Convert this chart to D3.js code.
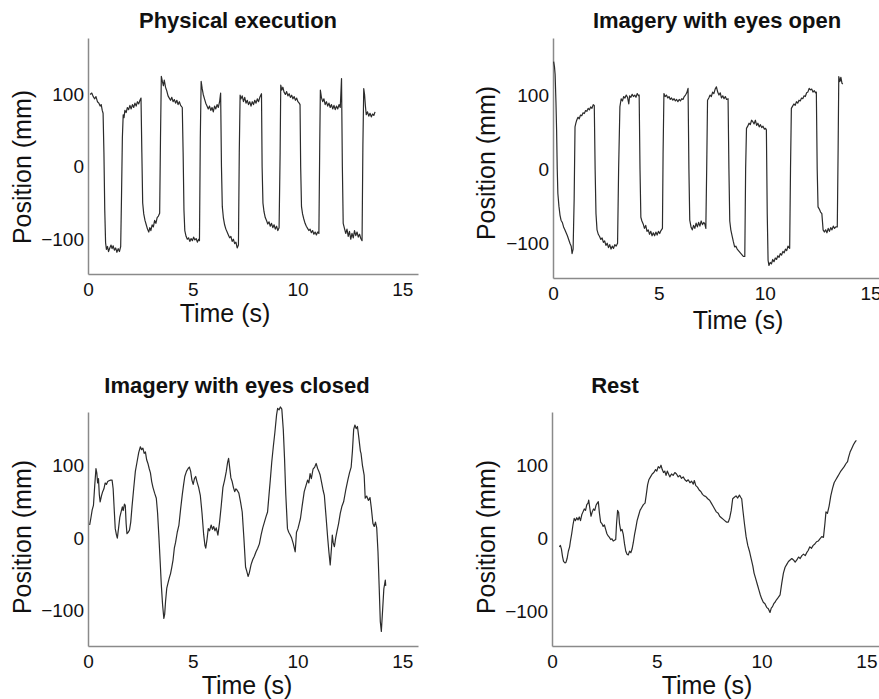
<!DOCTYPE html>
<html>
<head>
<meta charset="utf-8">
<script src="https://cdn.jsdelivr.net/npm/d3@7"></script>
<style>
  body { margin: 0; background: #fff; }
  svg { display: block; font-family: "Liberation Sans", Arial, sans-serif; }
  .panel-title { font-size: 22px; font-weight: bold; fill: #111; }
  .axis-label { font-size: 25px; fill: #111; }
  .tick text { font-size: 19px; fill: #111; font-family: "Liberation Sans", Arial, sans-serif; }
  .domain { stroke: #8a8a8a; stroke-width: 1.5; }
</style>
</head>
<body>
<svg id="chart"></svg>
<script>
// --- data (time in s, position in mm) ---

const panelTitles = ["Physical execution", "Imagery with eyes open", "Imagery with eyes closed", "Rest"];
const xTicks = [0, 5, 10, 15];
const yTicks = [-100, 0, 100];

const physicalExecution = [
  [0.10,100],[0.18,102],[0.25,97],[0.32,94],[0.38,97],[0.45,90],[0.52,88],[0.58,84],[0.63,86],[0.68,78],[0.72,74],
  [0.76,20],[0.80,-60],[0.84,-105],[0.88,-114],[0.93,-110],[0.98,-117],[1.04,-112],[1.10,-108],[1.15,-113],[1.20,-109],[1.26,-115],[1.32,-112],[1.38,-118],[1.44,-113],[1.50,-117],[1.56,-110],
  [1.60,-40],[1.64,40],[1.68,72],[1.72,68],[1.76,78],[1.82,75],[1.88,82],[1.94,79],[2.00,85],[2.06,80],[2.12,86],[2.18,82],[2.24,88],[2.30,84],[2.36,90],[2.42,87],[2.48,92],[2.53,95],
  [2.57,20],[2.61,-50],[2.66,-65],[2.72,-74],[2.78,-80],[2.84,-86],[2.90,-90],[2.95,-84],[3.00,-88],[3.06,-80],[3.12,-83],[3.18,-74],[3.24,-78],[3.30,-70],[3.36,-68],[3.42,-64],
  [3.46,40],[3.50,125],[3.55,118],[3.60,112],[3.64,120],[3.70,110],[3.76,105],[3.82,98],[3.88,95],[3.94,92],[4.00,96],[4.06,90],[4.12,93],[4.18,88],[4.24,92],[4.30,86],[4.36,90],[4.42,85],[4.50,82],
  [4.54,20],[4.58,-60],[4.62,-88],[4.68,-96],[4.74,-100],[4.80,-98],[4.86,-103],[4.92,-99],[4.98,-102],[5.04,-97],[5.10,-101],[5.16,-99],[5.22,-104],[5.28,-100],[5.32,-102],
  [5.36,40],[5.40,118],[5.45,108],[5.50,100],[5.56,94],[5.62,88],[5.68,84],[5.74,80],[5.80,84],[5.86,78],[5.92,82],[5.98,76],[6.04,84],[6.10,80],[6.16,86],[6.22,82],[6.28,90],[6.33,102],
  [6.37,0],[6.41,-55],[6.46,-70],[6.52,-80],[6.58,-86],[6.64,-90],[6.70,-94],[6.76,-98],[6.82,-96],[6.88,-103],[6.94,-100],[7.00,-106],[7.06,-104],[7.12,-112],[7.18,-108],
  [7.22,20],[7.26,99],[7.30,94],[7.36,98],[7.42,90],[7.48,96],[7.54,88],[7.60,92],[7.66,86],[7.72,90],[7.78,84],[7.84,90],[7.90,86],[7.96,92],[8.02,88],[8.08,94],[8.14,90],[8.20,96],[8.28,101],
  [8.31,0],[8.35,-50],[8.40,-62],[8.46,-70],[8.52,-74],[8.58,-79],[8.64,-76],[8.70,-82],[8.76,-78],[8.82,-84],[8.88,-80],[8.94,-86],[9.00,-82],[9.06,-88],[9.12,-84],
  [9.17,20],[9.20,113],[9.25,106],[9.30,110],[9.36,103],[9.42,100],[9.48,104],[9.54,98],[9.60,101],[9.66,96],[9.72,99],[9.78,94],[9.84,97],[9.90,92],[9.96,95],[10.02,90],[10.08,88],[10.12,86],
  [10.15,0],[10.19,-55],[10.24,-65],[10.30,-72],[10.36,-78],[10.42,-82],[10.48,-85],[10.54,-88],[10.60,-86],[10.66,-91],[10.72,-88],[10.78,-93],[10.84,-90],[10.90,-94],[10.96,-90],[11.02,-92],
  [11.06,30],[11.09,106],[11.14,96],[11.20,90],[11.26,94],[11.32,86],[11.38,90],[11.44,84],[11.50,88],[11.56,82],[11.62,86],[11.68,80],[11.74,85],[11.80,79],[11.86,84],[11.92,80],[11.98,86],[12.04,82],[12.10,122],
  [12.14,0],[12.18,-78],[12.24,-85],[12.30,-92],[12.36,-86],[12.42,-96],[12.48,-89],[12.54,-100],[12.60,-92],[12.66,-98],[12.72,-88],[12.78,-95],[12.84,-90],[12.90,-97],[12.96,-93],[13.02,-99],[13.08,-102],
  [13.12,30],[13.16,108],[13.20,100],[13.24,84],[13.28,72],[13.34,76],[13.40,70],[13.46,74],[13.52,69],[13.58,73],[13.64,71],[13.70,76]
];

const eyesOpen = [
  [0.03,145],[0.07,138],[0.10,128],[0.14,90],[0.17,53],[0.20,0],[0.23,-33],[0.28,-50],[0.33,-62],[0.38,-69],[0.44,-72],[0.50,-78],[0.56,-82],[0.62,-86],[0.68,-90],[0.74,-95],[0.80,-100],[0.86,-104],[0.90,-114],[0.95,-108],
  [1.00,-40],[1.04,57],[1.08,62],[1.12,66],[1.18,70],[1.24,68],[1.30,73],[1.36,72],[1.42,76],[1.48,75],[1.54,79],[1.60,78],[1.66,82],[1.72,80],[1.78,84],[1.84,82],[1.90,87],[1.95,86],
  [1.99,0],[2.03,-60],[2.08,-82],[2.14,-88],[2.20,-91],[2.26,-95],[2.32,-93],[2.38,-99],[2.44,-97],[2.50,-103],[2.56,-100],[2.62,-106],[2.68,-102],[2.74,-108],[2.80,-104],[2.86,-107],[2.92,-102],[2.98,-104],[3.05,-100],
  [3.10,0],[3.16,84],[3.22,95],[3.28,92],[3.34,98],[3.40,96],[3.46,100],[3.52,97],[3.58,88],[3.62,99],[3.68,97],[3.74,101],[3.80,98],[3.86,100],[3.92,97],[3.98,102],[4.04,99],[4.07,100],
  [4.11,0],[4.15,-65],[4.20,-70],[4.26,-74],[4.32,-80],[4.38,-76],[4.44,-84],[4.50,-82],[4.56,-88],[4.62,-84],[4.68,-90],[4.74,-86],[4.80,-90],[4.86,-85],[4.92,-89],[4.98,-84],[5.04,-87],[5.10,-83],[5.17,-80],
  [5.20,20],[5.24,102],[5.30,98],[5.36,100],[5.42,96],[5.48,98],[5.54,94],[5.60,96],[5.66,93],[5.72,95],[5.78,92],[5.84,94],[5.90,91],[5.96,94],[6.02,92],[6.08,95],[6.14,94],[6.20,98],[6.26,100],[6.32,103],[6.38,109],
  [6.42,0],[6.46,-69],[6.52,-78],[6.58,-82],[6.64,-76],[6.70,-80],[6.76,-73],[6.82,-78],[6.88,-72],[6.94,-77],[7.00,-70],[7.06,-75],[7.12,-72],[7.17,-74],[7.22,-80],
  [7.26,0],[7.30,93],[7.36,96],[7.42,100],[7.48,98],[7.54,104],[7.60,102],[7.66,108],[7.72,111],[7.78,104],[7.84,100],[7.90,103],[7.96,96],[8.02,99],[8.08,95],[8.14,98],[8.20,94],[8.27,95],
  [8.31,0],[8.35,-70],[8.40,-82],[8.46,-90],[8.52,-98],[8.58,-105],[8.64,-104],[8.70,-108],[8.76,-110],[8.82,-112],[8.88,-114],[8.94,-116],[9.00,-118],[9.06,-118],
  [9.10,0],[9.14,55],[9.20,58],[9.26,62],[9.32,60],[9.38,66],[9.44,64],[9.50,61],[9.56,66],[9.62,59],[9.68,62],[9.74,57],[9.80,60],[9.86,56],[9.92,58],[9.98,54],[10.04,55],[10.08,53],
  [10.12,-60],[10.16,-123],[10.20,-130],[10.26,-126],[10.32,-128],[10.38,-122],[10.44,-125],[10.50,-120],[10.56,-122],[10.62,-117],[10.68,-119],[10.74,-114],[10.80,-116],[10.86,-111],[10.92,-113],[10.98,-108],[11.04,-110],[11.10,-104],[11.18,-107],
  [11.22,0],[11.26,82],[11.32,85],[11.38,88],[11.44,86],[11.50,91],[11.56,89],[11.62,93],[11.68,92],[11.74,96],[11.80,95],[11.86,99],[11.92,98],[11.98,103],[12.04,104],[12.10,109],[12.16,107],[12.22,108],[12.28,104],[12.34,106],[12.40,103],[12.44,104],
  [12.48,0],[12.52,-51],[12.58,-54],[12.64,-58],[12.70,-60],[12.76,-82],[12.82,-85],[12.88,-82],[12.94,-86],[13.00,-80],[13.06,-84],[13.12,-79],[13.18,-82],[13.24,-77],[13.30,-80],[13.36,-78],[13.43,-78],
  [13.47,30],[13.50,125],[13.55,118],[13.60,124],[13.65,116],[13.69,115]
];

const eyesClosed = [
  [0.08,18],[0.14,28],[0.20,39],[0.26,45],[0.32,72],[0.38,96],[0.42,90],[0.46,76],[0.50,82],[0.54,60],[0.58,50],[0.64,58],[0.70,64],[0.76,68],[0.82,76],[0.88,74],[0.94,78],[1.00,79],[1.08,80],[1.15,80],
  [1.20,68],[1.25,40],[1.30,13],[1.36,4],[1.40,0],[1.46,14],[1.52,29],[1.58,36],[1.64,43],[1.68,38],[1.74,47],[1.78,45],[1.82,20],[1.86,6],[1.92,8],[1.98,11],[2.04,22],[2.10,43],[2.18,68],[2.26,92],
  [2.34,105],[2.42,118],[2.50,126],[2.56,122],[2.62,124],[2.68,117],[2.74,119],[2.80,108],[2.86,103],[2.92,96],[2.98,90],[3.04,78],[3.10,70],[3.18,62],[3.26,55],[3.32,35],[3.38,4],[3.44,-30],[3.50,-65],[3.56,-92],
  [3.62,-111],[3.66,-105],[3.70,-88],[3.76,-69],[3.82,-62],[3.88,-55],[3.94,-49],[4.00,-40],[4.06,-30],[4.12,-14],[4.18,-6],[4.26,8],[4.34,18],[4.42,40],[4.50,60],[4.56,73],[4.62,85],[4.70,92],[4.78,96],[4.84,98],
  [4.90,92],[4.96,80],[5.02,74],[5.08,82],[5.14,85],[5.20,78],[5.28,70],[5.36,59],[5.44,35],[5.52,5],[5.58,-10],[5.62,-14],[5.68,-2],[5.74,13],[5.80,10],[5.88,18],[5.94,12],[6.00,16],[6.06,10],[6.12,14],
  [6.20,4],[6.28,22],[6.36,45],[6.44,70],[6.52,80],[6.60,92],[6.66,104],[6.71,110],[6.76,98],[6.82,83],[6.88,78],[6.94,70],[7.00,64],[7.06,68],[7.12,66],[7.20,62],[7.28,50],[7.36,36],[7.44,0],[7.52,-40],
  [7.58,-46],[7.64,-53],[7.70,-48],[7.78,-37],[7.86,-30],[7.94,-25],[8.02,-19],[8.10,-14],[8.18,-8],[8.26,4],[8.34,14],[8.42,22],[8.50,30],[8.57,36],[8.64,60],[8.70,80],[8.77,105],[8.84,125],[8.92,146],[9.00,170],
  [9.05,179],[9.12,177],[9.18,181],[9.25,178],[9.32,150],[9.38,110],[9.44,60],[9.52,13],[9.58,8],[9.64,5],[9.72,0],[9.80,-8],[9.89,-19],[9.95,8],[10.02,13],[10.08,20],[10.14,27],[10.22,44],[10.32,64],[10.40,72],
  [10.48,80],[10.54,76],[10.60,89],[10.66,82],[10.74,95],[10.82,98],[10.89,103],[10.96,96],[11.02,92],[11.08,87],[11.16,75],[11.22,66],[11.28,59],[11.36,30],[11.44,0],[11.50,-20],[11.56,-37],[11.62,-14],[11.66,4],[11.70,-6],
  [11.76,-12],[11.82,0],[11.88,9],[11.96,20],[12.04,34],[12.12,44],[12.20,50],[12.30,66],[12.40,80],[12.48,90],[12.56,98],[12.62,120],[12.68,150],[12.74,156],[12.80,151],[12.86,154],[12.92,140],[13.00,120],[13.03,117],[13.10,100],
  [13.18,87],[13.23,55],[13.30,58],[13.38,52],[13.46,56],[13.52,42],[13.60,20],[13.66,16],[13.72,22],[13.78,14],[13.84,-19],[13.90,-70],[13.95,-115],[14.00,-129],[14.06,-100],[14.12,-70],[14.19,-58],[14.21,-66]
];

const rest = [
  [0.35,-12],[0.40,-10],[0.45,-15],[0.50,-25],[0.55,-32],[0.62,-34],[0.67,-33],[0.72,-28],[0.78,-18],[0.84,-12],[0.88,-4],[0.94,6],[1.00,18],[1.06,27],[1.12,24],[1.18,28],[1.24,25],[1.30,29],[1.36,24],[1.42,32],
  [1.48,36],[1.54,40],[1.60,38],[1.66,46],[1.72,48],[1.75,52],[1.80,42],[1.86,30],[1.92,36],[1.98,40],[2.04,38],[2.10,45],[2.16,48],[2.21,50],[2.26,35],[2.32,22],[2.38,20],[2.44,16],[2.50,18],[2.56,12],
  [2.62,6],[2.68,3],[2.74,1],[2.80,-2],[2.86,-1],[2.92,-4],[2.98,-3],[3.04,-2],[3.08,20],[3.13,38],[3.18,35],[3.22,20],[3.28,10],[3.34,12],[3.40,5],[3.46,-8],[3.52,-18],[3.58,-22],[3.64,-23],[3.70,-18],
  [3.76,-20],[3.82,-15],[3.88,-6],[3.94,5],[4.00,14],[4.06,24],[4.12,30],[4.20,38],[4.28,42],[4.36,46],[4.44,48],[4.50,60],[4.56,73],[4.62,80],[4.70,84],[4.78,88],[4.86,90],[4.94,94],[5.00,92],[5.07,98],
  [5.14,96],[5.20,100],[5.26,94],[5.32,90],[5.38,92],[5.44,86],[5.50,92],[5.56,88],[5.62,84],[5.70,88],[5.78,86],[5.86,90],[5.94,88],[6.02,84],[6.10,86],[6.18,82],[6.26,84],[6.34,80],[6.42,78],[6.50,80],
  [6.58,76],[6.66,78],[6.74,74],[6.79,79],[6.86,72],[6.94,70],[7.02,66],[7.10,64],[7.18,60],[7.26,58],[7.34,57],[7.43,54],[7.52,52],[7.60,48],[7.68,44],[7.76,40],[7.84,36],[7.93,34],[8.00,30],[8.08,28],
  [8.16,26],[8.24,24],[8.32,22],[8.41,22],[8.48,28],[8.55,38],[8.62,54],[8.70,56],[8.78,58],[8.86,55],[8.94,59],[9.00,56],[9.05,54],[9.10,40],[9.18,20],[9.26,2],[9.34,-10],[9.42,-18],[9.50,-28],[9.58,-38],
  [9.64,-48],[9.72,-56],[9.80,-64],[9.88,-72],[9.94,-78],[10.00,-83],[10.08,-88],[10.16,-90],[10.24,-95],[10.32,-97],[10.40,-102],[10.46,-96],[10.52,-94],[10.58,-90],[10.64,-88],[10.70,-85],[10.78,-82],[10.88,-78],[10.96,-62],[11.04,-48],
  [11.12,-40],[11.20,-36],[11.28,-32],[11.36,-30],[11.44,-28],[11.52,-30],[11.60,-33],[11.68,-30],[11.76,-26],[11.84,-28],[11.92,-24],[12.00,-22],[12.08,-24],[12.15,-20],[12.22,-17],[12.30,-12],[12.38,-14],[12.46,-10],[12.54,-8],[12.62,-5],
  [12.70,-4],[12.78,-1],[12.87,2],[12.95,1],[13.02,20],[13.07,36],[13.14,34],[13.22,44],[13.30,58],[13.38,68],[13.46,76],[13.54,80],[13.62,84],[13.70,88],[13.78,92],[13.86,95],[13.94,98],[14.02,102],[14.10,105],[14.14,110],
  [14.22,118],[14.30,123],[14.38,128],[14.46,132],[14.52,134]
];

// --- layout ---
const width = 879;
const height = 699;

const svg = d3.select("#chart")
  .attr("width", width)
  .attr("height", height);

// each panel: data, plot box and axis domains, plus label positions
const panels = [
  { data: physicalExecution, title: panelTitles[0],
    xr: [88, 418], yr: [274, 38], xd: [0, 15.75], yd: [-148, 178],
    titlePos: [238, 28], timePos: [225, 322], posPos: [23, 167] },
  { data: eyesOpen, title: panelTitles[1],
    xr: [553, 879], yr: [278, 38], xd: [0, 15.4], yd: [-147, 177],
    titlePos: [717, 28], timePos: [738, 329], posPos: [487, 163] },
  { data: eyesClosed, title: panelTitles[2],
    xr: [88, 418], yr: [646, 412], xd: [0, 15.75], yd: [-149, 174],
    titlePos: [237, 393], timePos: [247, 694], posPos: [23, 537] },
  { data: rest, title: panelTitles[3],
    xr: [552, 879], yr: [646, 412], xd: [0, 15.6], yd: [-148, 173],
    titlePos: [615, 393], timePos: [707, 694], posPos: [487, 537] }
];

panels.forEach(p => {
  const x = d3.scaleLinear().domain(p.xd).range(p.xr);
  const y = d3.scaleLinear().domain(p.yd).range(p.yr);
  const g = svg.append("g");

  // axes (no tick marks, only lines + labels)
  g.append("g")
    .attr("transform", `translate(0, ${p.yr[0]})`)
    .call(d3.axisBottom(x).tickValues(xTicks).tickSize(0).tickPadding(9).tickFormat(d3.format("d")));

  g.append("g")
    .attr("transform", `translate(${p.xr[0]}, 0)`)
    .call(d3.axisLeft(y).tickValues(yTicks).tickSize(0).tickPadding(4).tickFormat(d3.format("d")));

  // trace
  const line = d3.line()
    .x(d => x(d[0]))
    .y(d => y(d[1]));

  g.append("path")
    .datum(p.data)
    .attr("d", line)
    .attr("fill", "none")
    .attr("stroke", "#2b2b2b")
    .attr("stroke-width", 1.2)
    .attr("stroke-linejoin", "round");

  // texts
  g.append("text")
    .attr("class", "panel-title")
    .attr("x", p.titlePos[0])
    .attr("y", p.titlePos[1])
    .attr("text-anchor", "middle")
    .text(p.title);

  g.append("text")
    .attr("class", "axis-label")
    .attr("x", p.timePos[0])
    .attr("y", p.timePos[1])
    .attr("text-anchor", "middle")
    .text("Time (s)");

  g.append("text")
    .attr("class", "axis-label")
    .attr("transform", `translate(${p.posPos[0] + 8}, ${p.posPos[1]}) rotate(-90)`)
    .attr("text-anchor", "middle")
    .text("Position (mm)");
});
</script>
</body>
</html>
